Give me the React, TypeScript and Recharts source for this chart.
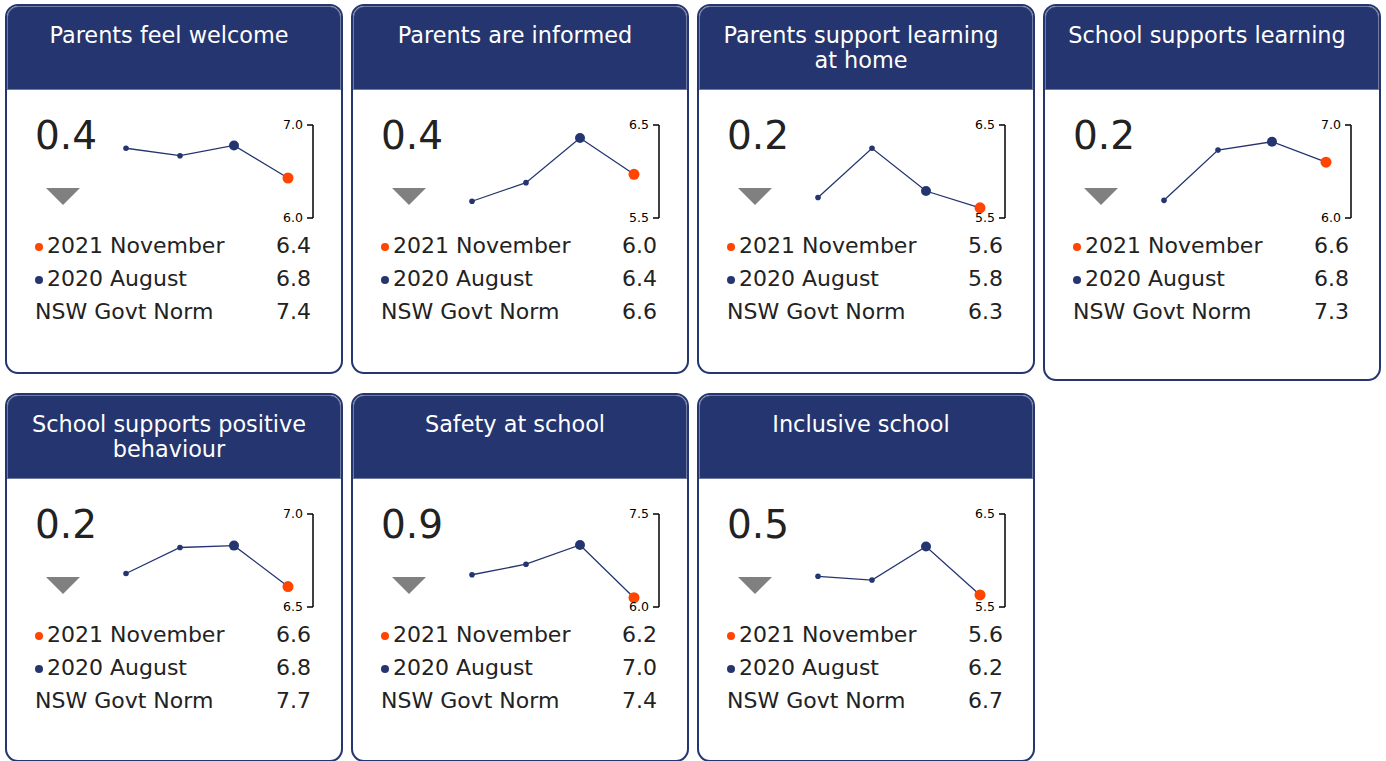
import { LineChart, Line, XAxis, YAxis } from "recharts";

// Colours
const NAVY = "#25356f";
const ORANGE = "#ff4500";
const TEXT = "#222222";
const FONT = "'DejaVu Sans', sans-serif";

// Data
const titles = [
	"Parents feel welcome",
	"Parents are informed",
	"Parents support learning at home",
	"School supports learning",
	"School supports positive behaviour",
	"Safety at school",
	"Inclusive school",
];
const changes = [0.4, 0.4, 0.2, 0.2, 0.2, 0.9, 0.5];
const periods = ["2018", "2019", "2020 August", "2021 November"];
const trends = [
	[6.75, 6.67, 6.78, 6.43],
	[5.68, 5.88, 6.36, 5.97],
	[5.72, 6.25, 5.79, 5.61],
	[6.19, 6.73, 6.82, 6.6],
	[6.68, 6.82, 6.83, 6.61],
	[6.52, 6.69, 7.0, 6.15],
	[5.83, 5.79, 6.15, 5.63],
];
const axisMin = [6.0, 5.5, 5.5, 6.0, 6.5, 6.0, 5.5];
const axisMax = [7.0, 6.5, 6.5, 7.0, 7.0, 7.5, 6.5];
const nov2021 = [6.4, 6.0, 5.6, 6.6, 6.6, 6.2, 5.6];
const aug2020 = [6.8, 6.4, 5.8, 6.8, 6.8, 7.0, 6.2];
const govtNorm = [7.4, 6.6, 6.3, 7.3, 7.7, 7.4, 6.7];

// Layout
const cardLeft = [5, 351, 697, 1043, 5, 351, 697];
const cardTop = [4, 4, 4, 4, 393, 393, 393];
const cardHeight = [370, 370, 370, 377, 369, 369, 369];

const renderDot = (props: any) => {
	const { cx, cy, index } = props;
	if (cx == null || cy == null) return <g key={`d-${index}`} />;
	const last = index === periods.length - 1;
	const prev = index === periods.length - 2;
	const r = last ? 5.5 : prev ? 5 : 2.8;
	return (
		<circle
			key={`d-${index}`}
			cx={cx}
			cy={cy}
			r={r}
			fill={last ? ORANGE : NAVY}
			stroke="none"
		/>
	);
};

const LegendRow = ({
	top,
	dot,
	label,
	value,
}: {
	top: number;
	dot?: string;
	label: string;
	value: number;
}) => (
	<div
		style={{
			position: "absolute",
			left: 28,
			right: 30,
			top,
			height: 33,
			lineHeight: "33px",
			fontSize: 22,
			color: TEXT,
			display: "flex",
			justifyContent: "space-between",
		}}
	>
		<span style={{ display: "flex", alignItems: "center" }}>
			{dot && (
				<span
					style={{
						display: "inline-block",
						width: 8,
						height: 8,
						borderRadius: "50%",
						background: dot,
						marginLeft: 0,
						marginRight: 4,
						marginTop: 3,
					}}
				/>
			)}
			{label}
		</span>
		<span>{value.toFixed(1)}</span>
	</div>
);

const Card = ({ i }: { i: number }) => {
	const data = periods.map((p, k) => ({ period: p, value: trends[i][k] }));
	return (
		<div
			style={{
				position: "absolute",
				left: cardLeft[i],
				top: cardTop[i],
				width: 338,
				height: cardHeight[i],
				boxSizing: "border-box",
				border: `2px solid ${NAVY}`,
				borderRadius: 13,
				overflow: "hidden",
				background: "#fff",
				fontFamily: FONT,
			}}
		>
			<div
				style={{
					height: 84,
					background: NAVY,
					boxShadow: "inset 0 0 0 1px rgba(255,255,255,0.35)",
					borderRadius: "11px 11px 0 0",
					color: "#fff",
					fontSize: 22.4,
					lineHeight: "25px",
					textAlign: "center",
					padding: "17px 27px 0 17px",
					boxSizing: "border-box",
				}}
			>
				{titles[i]}
			</div>
			<div
				style={{
					position: "absolute",
					left: 28,
					top: 106,
					fontSize: 39,
					lineHeight: "48px",
					color: TEXT,
				}}
			>
				{changes[i].toFixed(1)}
			</div>
			<div
				style={{
					position: "absolute",
					left: 39,
					top: 182,
					width: 0,
					height: 0,
					borderLeft: "17.5px solid transparent",
					borderRight: "17.5px solid transparent",
					borderTop: "17px solid #808080",
				}}
			/>
			<div style={{ position: "absolute", left: 108, top: 103 }}>
				<LineChart
					width={200}
					height={115}
					data={data}
					margin={{ top: 16, right: 2, bottom: 6, left: 11 }}
				>
					<XAxis dataKey="period" hide padding={{ left: 0, right: 25 }} />
					<YAxis
						orientation="right"
						mirror
						domain={[axisMin[i], axisMax[i]]}
						ticks={[axisMin[i], axisMax[i]]}
						interval={0}
						allowDataOverflow
						tickFormatter={(v: number) => v.toFixed(1)}
						axisLine={{ stroke: "#000", strokeWidth: 1.5 }}
						tickLine={{ stroke: "#000", strokeWidth: 1.5 }}
						tickSize={6}
						tickMargin={4}
						tick={{ fill: "#000", fontSize: 12.5, fontFamily: FONT }}
					/>
					<Line
						type="linear"
						dataKey="value"
						stroke={NAVY}
						strokeWidth={1.3}
						dot={renderDot}
						activeDot={false}
						isAnimationActive={false}
					/>
				</LineChart>
			</div>
			<LegendRow top={223} dot={ORANGE} label="2021 November" value={nov2021[i]} />
			<LegendRow top={256} dot={NAVY} label="2020 August" value={aug2020[i]} />
			<LegendRow top={289} label="NSW Govt Norm" value={govtNorm[i]} />
		</div>
	);
};

const App = () => {
	return (
		<div
			style={{
				position: "absolute",
				left: 0,
				top: 0,
				width: 1386,
				height: 761,
				overflow: "hidden",
				background: "#fff",
			}}
		>
			{titles.map((_, i) => (
				<Card key={i} i={i} />
			))}
		</div>
	);
};

export default App;
